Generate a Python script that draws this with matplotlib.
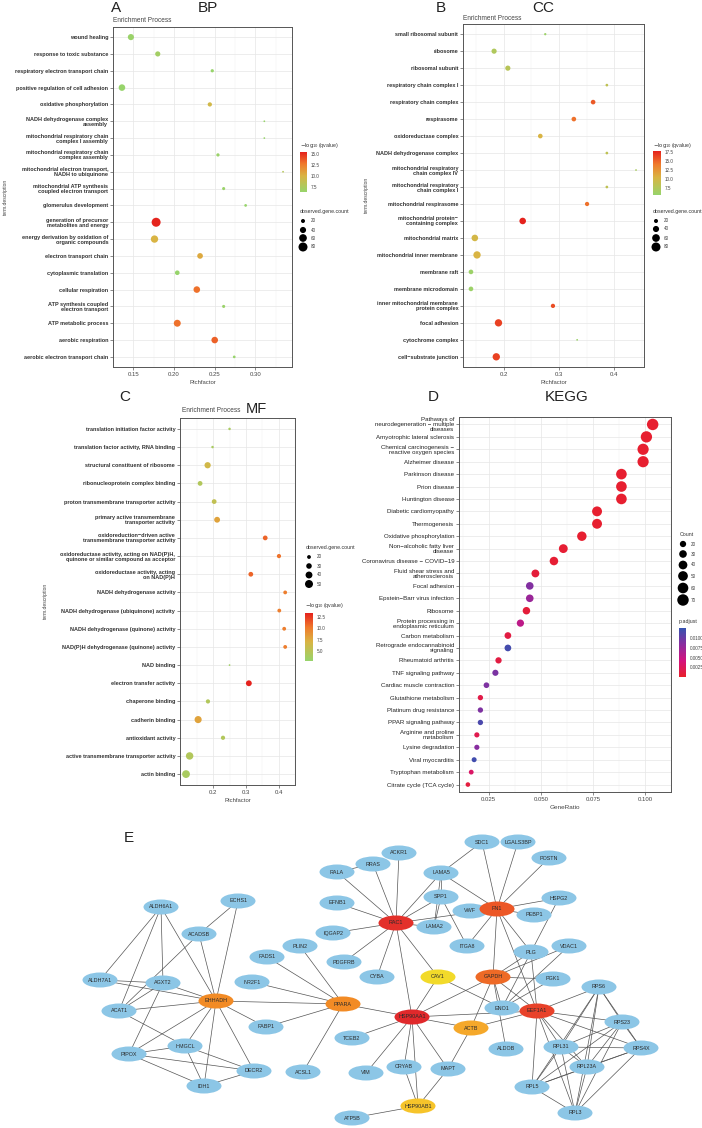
import numpy as np
import matplotlib
matplotlib.use("Agg")
import matplotlib.pyplot as plt
from matplotlib.patches import Ellipse
from matplotlib.colors import LinearSegmentedColormap, Normalize
from matplotlib.cm import ScalarMappable

plt.rcParams['font.family'] = ['Liberation Sans', 'DejaVu Sans']

W, H = 702, 1128

# ---------------- data ----------------
# A - BP
bp_terms = ["wound healing", "response to toxic substance", "respiratory electron transport chain",
            "positive regulation of cell adhesion", "oxidative phosphorylation",
            "NADH dehydrogenase complex\nassembly", "mitochondrial respiratory chain\ncomplex I assembly",
            "mitochondrial respiratory chain\ncomplex assembly", "mitochondrial electron transport,\nNADH to ubiquinone",
            "mitochondrial ATP synthesis\ncoupled electron transport", "glomerulus development",
            "generation of precursor\nmetabolites and energy", "energy derivation by oxidation of\norganic compounds",
            "electron transport chain", "cytoplasmic translation", "cellular respiration",
            "ATP synthesis coupled\nelectron transport", "ATP metabolic process", "aerobic respiration",
            "aerobic electron transport chain"]
bp_rich = [0.147, 0.180, 0.247, 0.136, 0.244, 0.311, 0.311, 0.254, 0.334, 0.261, 0.288,
           0.178, 0.176, 0.232, 0.204, 0.228, 0.261, 0.204, 0.250, 0.274]
bp_count = [40, 30, 15, 45, 22, 8, 8, 15, 8, 14, 12, 80, 55, 35, 25, 45, 14, 50, 45, 12]
bp_q = [6.5, 7.0, 6.0, 6.0, 9.5, 6.0, 6.0, 6.5, 8.0, 6.5, 6.0, 15.4, 10.0, 10.5, 6.0, 13.0, 6.5, 13.0, 13.5, 6.0]

# B - CC
cc_terms = ["small ribosomal subunit", "ribosome", "ribosomal subunit", "respiratory chain complex I",
            "respiratory chain complex", "respirasome", "oxidoreductase complex", "NADH dehydrogenase complex",
            "mitochondrial respiratory\nchain complex IV", "mitochondrial respiratory\nchain complex I",
            "mitochondrial respirasome", "mitochondrial protein\u2212\ncontaining complex", "mitochondrial matrix",
            "mitochondrial inner membrane", "membrane raft", "membrane microdomain",
            "inner mitochondrial membrane\nprotein complex", "focal adhesion", "cytochrome complex",
            "cell\u2212substrate junction"]
cc_rich = [0.275, 0.182, 0.207, 0.387, 0.362, 0.327, 0.266, 0.387, 0.440, 0.387, 0.351,
           0.234, 0.147, 0.151, 0.140, 0.140, 0.289, 0.190, 0.333, 0.186]
cc_count = [10, 30, 30, 12, 25, 25, 25, 12, 8, 12, 22, 45, 45, 55, 25, 25, 22, 55, 8, 55]
cc_q = [6.0, 7.5, 8.0, 8.5, 15.5, 14.5, 10.5, 8.5, 7.0, 8.5, 14.5, 17.8, 10.0, 10.5, 6.0, 6.0,
        16.0, 16.5, 5.8, 16.5]

# C - MF
mf_terms = ["translation initiation factor activity", "translation factor activity, RNA binding",
            "structural constituent of ribosome", "ribonucleoprotein complex binding",
            "proton transmembrane transporter activity", "primary active transmembrane\ntransporter activity",
            "oxidoreduction\u2212driven active\ntransmembrane transporter activity",
            "oxidoreductase activity, acting on NAD(P)H,\nquinone or similar compound as acceptor",
            "oxidoreductase activity, acting\non NAD(P)H", "NADH dehydrogenase activity",
            "NADH dehydrogenase (ubiquinone) activity", "NADH dehydrogenase (quinone) activity",
            "NAD(P)H dehydrogenase (quinone) activity", "NAD binding", "electron transfer activity",
            "chaperone binding", "cadherin binding", "antioxidant activity",
            "active transmembrane transporter activity", "actin binding"]
mf_rich = [0.250, 0.198, 0.183, 0.160, 0.203, 0.212, 0.359, 0.401, 0.315, 0.420, 0.402, 0.417,
           0.420, 0.250, 0.309, 0.184, 0.154, 0.230, 0.128, 0.117]
mf_count = [15, 15, 35, 25, 25, 32, 25, 22, 25, 20, 20, 20, 20, 13, 32, 22, 42, 22, 45, 48]
mf_q = [4.0, 4.0, 6.5, 4.5, 5.5, 8.0, 11.0, 10.5, 11.0, 10.0, 10.0, 10.0, 10.0, 3.5, 13.4,
        4.5, 8.0, 4.5, 4.5, 4.0]

# D - KEGG
kegg_terms = ["Pathways of\nneurodegeneration \u2212 multiple\ndiseases", "Amyotrophic lateral sclerosis",
              "Chemical carcinogenesis \u2212\nreactive oxygen species", "Alzheimer disease",
              "Parkinson disease", "Prion disease", "Huntington disease", "Diabetic cardiomyopathy",
              "Thermogenesis", "Oxidative phosphorylation", "Non\u2212alcoholic fatty liver\ndisease",
              "Coronavirus disease \u2212 COVID\u221219", "Fluid shear stress and\natherosclerosis",
              "Focal adhesion", "Epstein\u2212Barr virus infection", "Ribosome",
              "Protein processing in\nendoplasmic reticulum", "Carbon metabolism",
              "Retrograde endocannabinoid\nsignaling", "Rheumatoid arthritis", "TNF signaling pathway",
              "Cardiac muscle contraction", "Glutathione metabolism", "Platinum drug resistance",
              "PPAR signaling pathway", "Arginine and proline\nmetabolism", "Lysine degradation",
              "Viral myocarditis", "Tryptophan metabolism", "Citrate cycle (TCA cycle)"]
kegg_ratio = [0.1037, 0.1007, 0.0991, 0.0991, 0.0887, 0.0887, 0.0887, 0.0770, 0.0770, 0.0697,
              0.0608, 0.0563, 0.0474, 0.0447, 0.0447, 0.0431, 0.0402, 0.0342, 0.0342, 0.0297,
              0.0282, 0.0239, 0.0210, 0.0210, 0.0210, 0.0193, 0.0193, 0.0180, 0.0166, 0.0150]
kegg_count = [70, 68, 67, 67, 60, 60, 60, 52, 52, 47, 41, 38, 32, 30, 30, 29, 27, 23, 23, 20,
              19, 16, 14, 14, 14, 13, 13, 12, 11, 10]
kegg_padj = [0.0003, 0.0003, 0.0003, 0.0003, 0.0003, 0.0003, 0.0003, 0.0003, 0.0003, 0.0003,
             0.0005, 0.0005, 0.0008, 0.0088, 0.0075, 0.0008, 0.0055, 0.0012, 0.0118, 0.0012,
             0.0092, 0.0090, 0.0015, 0.0090, 0.0115, 0.0018, 0.0085, 0.0120, 0.0030, 0.0010]

# E - PPI network
hub_colors = {"RAC1": "#E3302A", "HSP90AA1": "#E0292B", "EEF1A1": "#E8422A", "FN1": "#EC5726",
              "GAPDH": "#EE6A26", "EHHADH": "#F28B25", "PPARA": "#F28B25", "ACTB": "#F5A82A",
              "HSP90AB1": "#F6C42A", "CAV1": "#F2DA2A"}
layout = {"SDC1": (482, 842), "LGALS3BP": (518, 842), "ACKR1": (399, 853), "POSTN": (549, 858),
          "RRAS": (373, 864), "RALA": (337, 872), "LAMA5": (441, 873), "EFNB1": (337, 903),
          "SPP1": (441, 897), "HSPG2": (559, 898), "ECHS1": (238, 901), "ALDH6A1": (161, 907),
          "VWF": (470, 911), "FN1": (497, 909), "PEBP1": (534, 915), "RAC1": (396, 923),
          "LAMA2": (434, 927), "IQGAP2": (333, 933), "ACADSB": (199, 934), "PLIN2": (300, 946),
          "ITGA8": (467, 946), "VDAC1": (569, 946), "PLG": (531, 952), "FADS1": (267, 957),
          "PDGFRB": (344, 962), "CYBA": (377, 977), "CAV1": (438, 977), "GAPDH": (493, 977),
          "PGK1": (553, 979), "ALDH7A1": (100, 980), "NR2F1": (252, 982), "AGXT2": (163, 983),
          "RPS6": (599, 987), "EHHADH": (216, 1001), "PPARA": (343, 1004), "ENO1": (502, 1008),
          "ACAT1": (119, 1011), "EEF1A1": (537, 1011), "HSP90AA1": (412, 1017), "RPS23": (622, 1022),
          "FABP1": (266, 1027), "ACTB": (471, 1028), "TCEB2": (352, 1038), "HMGCL": (185, 1046),
          "RPL31": (561, 1047), "RPS4X": (641, 1048), "ALDOB": (506, 1049), "PIPOX": (129, 1054),
          "CRYAB": (404, 1067), "RPL23A": (587, 1067), "MAPT": (448, 1069), "DECR2": (254, 1071),
          "ACSL1": (303, 1072), "VIM": (366, 1073), "IDH1": (204, 1086), "RPL5": (532, 1087),
          "HSP90AB1": (418, 1106), "RPL3": (575, 1113), "ATP5B": (352, 1118)}
edges = [("ALDH6A1", "ALDH7A1"), ("ALDH6A1", "ACAT1"), ("ALDH6A1", "AGXT2"), ("ALDH6A1", "EHHADH"),
         ("ECHS1", "ACADSB"), ("ECHS1", "EHHADH"), ("ACADSB", "EHHADH"), ("ACADSB", "ACAT1"),
         ("ALDH7A1", "EHHADH"), ("ALDH7A1", "AGXT2"), ("AGXT2", "EHHADH"), ("AGXT2", "ACAT1"),
         ("AGXT2", "PIPOX"), ("ACAT1", "EHHADH"), ("ACAT1", "HMGCL"), ("PIPOX", "EHHADH"),
         ("PIPOX", "HMGCL"), ("PIPOX", "DECR2"), ("PIPOX", "IDH1"), ("HMGCL", "EHHADH"),
         ("HMGCL", "DECR2"), ("HMGCL", "IDH1"), ("EHHADH", "DECR2"), ("EHHADH", "IDH1"),
         ("IDH1", "DECR2"), ("EHHADH", "FABP1"), ("EHHADH", "PPARA"),
         ("PPARA", "FADS1"), ("PPARA", "PLIN2"), ("PPARA", "NR2F1"), ("PPARA", "FABP1"),
         ("PPARA", "ACSL1"), ("PPARA", "HSP90AA1"),
         ("RAC1", "RALA"), ("RAC1", "RRAS"), ("RAC1", "ACKR1"), ("RAC1", "EFNB1"), ("RAC1", "IQGAP2"),
         ("RAC1", "PDGFRB"), ("RAC1", "CYBA"), ("RAC1", "LAMA5"), ("RAC1", "SPP1"), ("RAC1", "LAMA2"),
         ("RAC1", "FN1"), ("RAC1", "CAV1"), ("RAC1", "HSP90AA1"), ("RALA", "RRAS"),
         ("FN1", "SDC1"), ("FN1", "LGALS3BP"), ("FN1", "POSTN"), ("FN1", "LAMA5"), ("FN1", "HSPG2"),
         ("FN1", "VWF"), ("FN1", "PEBP1"), ("FN1", "ITGA8"), ("FN1", "PLG"), ("FN1", "GAPDH"),
         ("FN1", "EEF1A1"), ("SDC1", "LAMA5"), ("LAMA5", "SPP1"), ("LAMA5", "LAMA2"),
         ("SPP1", "LAMA2"), ("SPP1", "ITGA8"), ("HSPG2", "PLG"), ("PLG", "GAPDH"), ("PLG", "ENO1"),
         ("PLG", "EEF1A1"), ("VDAC1", "GAPDH"), ("VDAC1", "ENO1"), ("GAPDH", "PGK1"),
         ("GAPDH", "ENO1"), ("GAPDH", "EEF1A1"), ("GAPDH", "HSP90AA1"), ("GAPDH", "ACTB"),
         ("GAPDH", "ALDOB"), ("PGK1", "ENO1"), ("ENO1", "CAV1"), ("CAV1", "HSP90AA1"),
         ("HSP90AA1", "EEF1A1"), ("HSP90AA1", "ACTB"), ("HSP90AA1", "TCEB2"), ("HSP90AA1", "VIM"),
         ("HSP90AA1", "CRYAB"), ("HSP90AA1", "MAPT"), ("HSP90AA1", "HSP90AB1"), ("ACTB", "MAPT"),
         ("ACTB", "EEF1A1"), ("CRYAB", "HSP90AB1"), ("MAPT", "HSP90AB1"), ("HSP90AB1", "ATP5B")]
ribo = ["EEF1A1", "RPS6", "RPS23", "RPS4X", "RPL31", "RPL23A", "RPL5", "RPL3"]
for i in range(len(ribo)):
    for j in range(i + 1, len(ribo)):
        edges.append((ribo[i], ribo[j]))

# ---------------- styles ----------------
qcmap = LinearSegmentedColormap.from_list("q", [(0, "#97D46B"), (0.4, "#D9B443"),
                                                (0.7, "#EF7A2C"), (1, "#E5221D")])
pcmap = LinearSegmentedColormap.from_list("p", ["#E8202A", "#D4127E", "#8A2C9F", "#3553B0"])
TXT = "#333333"


def size_ab(c):
    return np.maximum(1.5, 0.56 * np.asarray(c, float) - 2.9)


def size_c(c):
    return np.maximum(1.5, 0.85 * np.asarray(c, float) - 9.5)


def size_d(c):
    return 11 + 0.95 * (np.asarray(c, float) - 10)


fig = plt.figure(figsize=(7.02, 11.28), dpi=100)
base = fig.add_axes([0, 0, 1, 1])
base.set_xlim(0, W)
base.set_ylim(H, 0)
base.axis("off")


def px_axes(l, t, r, b):
    return fig.add_axes([l / W, 1 - b / H, (r - l) / W, (b - t) / H])


def dotplot(box, terms, xs, sizes, cvals, cmap, norm, xlim, xticks, xlabel,
            lab_size=4.0, bold=True, minor=True):
    ax = px_axes(*box)
    n = len(terms)
    y = np.arange(n)[::-1]
    ax.scatter(xs, y, s=sizes, c=cvals, cmap=cmap, norm=norm, linewidths=0, zorder=3)
    ax.set_ylim(-0.6, n - 0.4)
    ax.set_xlim(*xlim)
    ax.set_yticks(y)
    ax.set_yticklabels(terms, fontsize=lab_size, color=TXT,
                       fontweight="bold" if bold else "normal", linespacing=1.0)
    ax.set_xticks(xticks)
    if minor:
        ax.set_xticks([(a + b) / 2 for a, b in zip(xticks[:-1], xticks[1:])] +
                      [xticks[0] - (xticks[1] - xticks[0]) / 2, xticks[-1] + (xticks[1] - xticks[0]) / 2],
                      minor=True)
    ax.tick_params(axis="both", which="major", length=2, width=0.4, color="#333", pad=1.5)
    ax.tick_params(axis="x", labelsize=4.3, labelcolor="#444")
    ax.tick_params(axis="x", which="minor", length=0)
    ax.grid(True, which="major", color="#E6E6E6", lw=0.5)
    ax.grid(True, which="minor", axis="x", color="#F0F0F0", lw=0.3)
    ax.set_axisbelow(True)
    for s in ax.spines.values():
        s.set_color("#555555")
        s.set_linewidth(0.7)
    ax.set_xlabel(xlabel, fontsize=4.2, color="#444", labelpad=2)
    return ax


# A
nA = Normalize(6.3, 15.5)
axA = dotplot((113, 27, 292, 367), bp_terms, bp_rich, size_ab(bp_count), bp_q, qcmap, nA,
              (0.1268, 0.345), [0.15, 0.20, 0.25, 0.30], "Richfactor")
axA.set_xticklabels(["0.15", "0.20", "0.25", "0.30"])
# B
nB = Normalize(5.6, 17.8)
axB = dotplot((463, 24, 644, 367), cc_terms, cc_rich, size_ab(cc_count), cc_q, qcmap, nB,
              (0.1255, 0.4545), [0.2, 0.3, 0.4], "Richfactor")
# C
nC = Normalize(2.8, 13.4)
axC = dotplot((180, 418, 295, 785), mf_terms, mf_rich, size_c(mf_count), mf_q, qcmap, nC,
              (0.0986, 0.432), [0.2, 0.3, 0.4], "Richfactor")
# D
nD = Normalize(0, 0.0126)
axD = dotplot((459, 417, 671, 792), kegg_terms, kegg_ratio, size_d(kegg_count), kegg_padj, pcmap, nD,
              (0.01073, 0.1083), [0.025, 0.050, 0.075, 0.100], "GeneRatio",
              lab_size=4.4, bold=False)
axD.set_xticklabels(["0.025", "0.050", "0.075", "0.100"])
axD.tick_params(axis="y", labelcolor="#222")
axD.xaxis.label.set_size(4.6)

# y labels
base.text(5, 197, "term.description", rotation=90, fontsize=3.6, color="#444", ha="center", va="center")
base.text(366, 195, "term.description", rotation=90, fontsize=3.6, color="#444", ha="center", va="center")
base.text(45, 601, "term.description", rotation=90, fontsize=3.6, color="#444", ha="center", va="center")

# titles
big = dict(fontsize=11, color="#222", va="center")
base.text(111, 8, "A", ha="left", **big)
base.text(208, 8, "BP", ha="center", **big)
base.text(113, 20, "Enrichment Process", fontsize=4.7, color="#444", va="center")
base.text(436, 8, "B", ha="left", **big)
base.text(543, 8, "CC", ha="center", **big)
base.text(463, 18, "Enrichment Process", fontsize=4.7, color="#444", va="center")
base.text(119, 397, "C", ha="left", **big)
base.text(182, 411, "Enrichment Process", fontsize=4.7, color="#444", va="center")
base.text(256, 409, "MF", ha="center", fontsize=10.5, color="#222", va="center")
base.text(428, 397, "D", ha="left", **big)
base.text(567, 397, "KEGG", ha="center", **big)
base.text(124, 838, "E", ha="left", **big)


# legends
def colorbar(l, t, r, b, norm, cmap, ticks, fmt):
    cax = px_axes(l, t, r, b)
    cb = fig.colorbar(ScalarMappable(norm=norm, cmap=cmap), cax=cax)
    cb.set_ticks(ticks)
    cb.set_ticklabels([fmt.format(v) for v in ticks])
    cb.outline.set_visible(False)
    cax.tick_params(labelsize=3.3, length=1.5, width=0.4, color="white", labelcolor="#444", pad=1.5)
    return cb


qtitle = r"$-\log_{10}$(qvalue)"
base.text(300, 146, qtitle, fontsize=3.8, color="#333", va="center")
colorbar(300, 152, 307, 192, nA, qcmap, [7.5, 10.0, 12.5, 15.0], "{:.1f}")
base.text(653, 146, qtitle, fontsize=3.8, color="#333", va="center")
colorbar(653, 151, 661, 195, nB, qcmap, [7.5, 10.0, 12.5, 15.0, 17.5], "{:.1f}")
base.text(305, 606, qtitle, fontsize=3.8, color="#333", va="center")
colorbar(305, 613, 313, 661, nC, qcmap, [5.0, 7.5, 10.0, 12.5], "{:.1f}")
base.text(679, 622, "p.adjust", fontsize=3.8, color="#333", va="center")
colorbar(679, 628, 686, 677, nD, pcmap, [0.0025, 0.0050, 0.0075, 0.0100], "{:.4f}")


def size_legend(x, title_y, ys, vals, sizefn, title):
    base.text(x - 3, title_y, title, fontsize=3.8, color="#333", va="center")
    base.scatter([x] * len(vals), ys, s=sizefn(vals), c="black", linewidths=0)
    for yy, v in zip(ys, vals):
        base.text(x + 8, yy, str(v), fontsize=3.3, color="#444", va="center")


size_legend(303, 212, [221, 230, 238, 247], [20, 40, 60, 80], size_ab, "observed.gene.count")
size_legend(656, 211, [221, 229, 238, 247], [20, 40, 60, 80], size_ab, "observed.gene.count")
size_legend(309, 547, [557, 566, 575, 584], [20, 30, 40, 50], size_c, "observed.gene.count")
size_legend(683, 534, [544, 554, 565, 576, 588, 600], [20, 30, 40, 50, 60, 70], size_d, "Count")

# network
for a, b in edges:
    (x1, y1), (x2, y2) = layout[a], layout[b]
    base.plot([x1, x2], [y1, y2], color="#555555", lw=0.5, zorder=1)
for name, (x, y) in layout.items():
    base.add_patch(Ellipse((x, y), 35, 15, facecolor=hub_colors.get(name, "#8CC6E6"),
                           edgecolor="none", zorder=2))
    base.text(x, y, name, fontsize=3.9, color="#2a2a2a", ha="center", va="center", zorder=3)

fig.savefig("out.png", dpi=100)
